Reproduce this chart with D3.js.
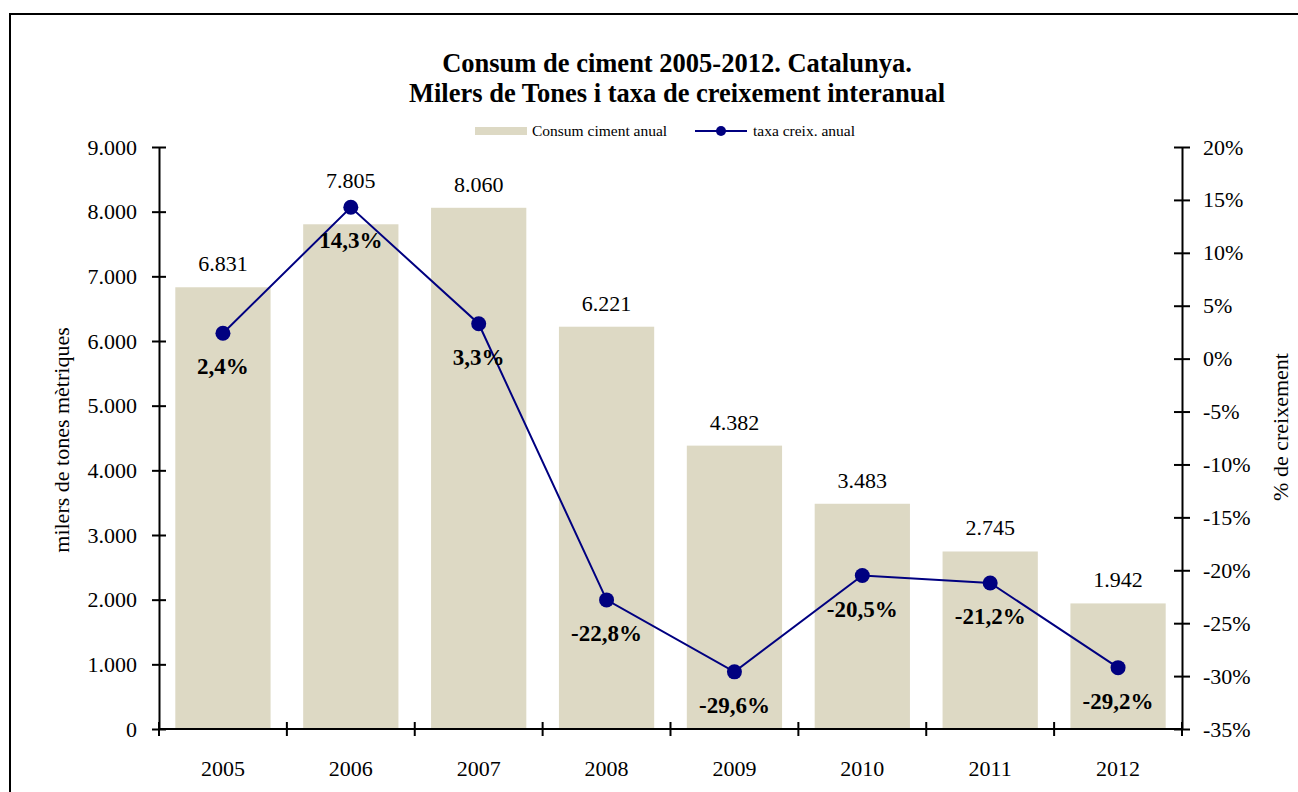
<!DOCTYPE html>
<html>
<head>
<meta charset="utf-8">
<script src="https://cdn.jsdelivr.net/npm/d3@7"></script>
<style>
  body { margin: 0; background: #fff; }
  text { font-family: "Liberation Serif", "Times New Roman", serif; fill: #000; }
</style>
</head>
<body>
<script>
// chart data
const years = ["2005", "2006", "2007", "2008", "2009", "2010", "2011", "2012"]
const consum = [6831, 7805, 8060, 6221, 4382, 3483, 2745, 1942]
const taxa = [2.4, 14.3, 3.3, -22.8, -29.6, -20.5, -21.2, -29.2]
const leftTicks = [0, 1000, 2000, 3000, 4000, 5000, 6000, 7000, 8000, 9000]
const rightTicks = [-35, -30, -25, -20, -15, -10, -5, 0, 5, 10, 15, 20]

const cat = d3.formatLocale({decimal: ",", thousands: ".", grouping: [3], currency: ["", "€"], minus: "-"})
const fmtInt = cat.format(",d")
const fmtPct = cat.format(".1f")

const W = 1298, H = 792
const pLeft = 159, pRight = 1182, pTop = 147, pBottom = 729
const barColor = "#ddd9c4", lineColor = "#000080"

let svg = d3.select("body").append("svg")
  .attr("width", W).attr("height", H)

// frame (runs off the right and bottom of the picture)
svg.append("rect")
  .attr("x", 10).attr("y", 14).attr("width", 1320).attr("height", 820)
  .attr("fill", "none").attr("stroke", "#000").attr("stroke-width", 2)

// title
svg.append("text").attr("x", 677).attr("y", 72).attr("text-anchor", "middle")
  .attr("font-size", 26.5).attr("font-weight", "bold")
  .text("Consum de ciment 2005-2012. Catalunya.")
svg.append("text").attr("x", 677).attr("y", 102).attr("text-anchor", "middle")
  .attr("font-size", 26.5).attr("font-weight", "bold")
  .text("Milers de Tones i taxa de creixement interanual")

// scales
let x = d3.scaleBand().domain(years).range([pLeft, pRight]).paddingInner(0.255).paddingOuter(0.1275)
let xEdge = d3.scaleLinear().domain([0, years.length]).range([pLeft, pRight])
let y = d3.scaleLinear().domain([0, 9000]).range([pBottom, pTop])
let y2 = d3.scaleLinear().domain([-35, 20]).range([pBottom, pTop])

// bars
svg.selectAll(".bar").data(consum).enter()
  .append("rect").attr("class", "bar")
  .attr("x", (d, i) => x(years[i]))
  .attr("width", x.bandwidth())
  .attr("y", d => y(d))
  .attr("height", d => pBottom - y(d))
  .attr("fill", barColor)

// left axis
let axL = svg.append("g").attr("transform", `translate(${pLeft},0)`)
  .call(d3.axisLeft(y).tickValues(leftTicks).tickFormat(fmtInt).tickSizeInner(7).tickSizeOuter(0).tickPadding(15))
axL.selectAll(".tick line").attr("x2", -7).attr("x1", 7).attr("stroke-width", 2)
axL.select(".domain").attr("stroke-width", 2)
axL.selectAll("text").attr("font-size", 22).attr("font-family", "Liberation Serif")

// right axis
let axR = svg.append("g").attr("transform", `translate(${pRight},0)`)
  .call(d3.axisRight(y2).tickValues(rightTicks).tickFormat(d => d + "%").tickSizeInner(8).tickSizeOuter(0).tickPadding(13))
axR.selectAll(".tick line").attr("x1", -8).attr("x2", 8).attr("stroke-width", 2)
axR.select(".domain").attr("stroke-width", 2)
axR.selectAll("text").attr("font-size", 22).attr("font-family", "Liberation Serif")

// bottom axis with ticks between categories
svg.append("line").attr("x1", pLeft).attr("x2", pRight).attr("y1", pBottom).attr("y2", pBottom)
  .attr("stroke", "#000").attr("stroke-width", 2)
svg.selectAll(".xtick").data(d3.range(years.length + 1)).enter()
  .append("line").attr("class", "xtick")
  .attr("x1", d => xEdge(d)).attr("x2", d => xEdge(d))
  .attr("y1", pBottom - 7).attr("y2", pBottom + 7)
  .attr("stroke", "#000").attr("stroke-width", 2)
svg.selectAll(".xlabel").data(years).enter()
  .append("text").attr("class", "xlabel")
  .attr("x", d => x(d) + x.bandwidth() / 2)
  .attr("y", 776)
  .attr("text-anchor", "middle").attr("font-size", 22)
  .text(d => d)

// axis titles
svg.append("text").attr("transform", `translate(69,${(pTop + pBottom) / 2 + 2}) rotate(-90)`)
  .attr("text-anchor", "middle").attr("font-size", 22)
  .text("milers de tones mètriques")
svg.append("text").attr("transform", `translate(1288,${(pTop + pBottom) / 2 - 11}) rotate(-90)`)
  .attr("text-anchor", "middle").attr("font-size", 22)
  .text("% de creixement")

// line
let cx = (d, i) => x(years[i]) + x.bandwidth() / 2
let line = d3.line().x(cx).y(d => y2(d))
svg.append("path").datum(taxa)
  .attr("d", line).attr("fill", "none")
  .attr("stroke", lineColor).attr("stroke-width", 2)
svg.selectAll(".dot").data(taxa).enter()
  .append("circle").attr("class", "dot")
  .attr("cx", cx).attr("cy", d => y2(d)).attr("r", 7.5)
  .attr("fill", lineColor)

// bar value labels, lifted above the marker when it sits in the way
svg.selectAll(".vlabel").data(consum).enter()
  .append("text").attr("class", "vlabel")
  .attr("x", (d, i) => cx(d, i))
  .attr("y", (d, i) => {
    let yy = y(d) - 16
    let my = y2(taxa[i])
    if (my < y(d) + 5 && my > yy - 25) yy = my - 19
    return yy
  })
  .attr("text-anchor", "middle").attr("font-size", 22)
  .text(d => fmtInt(d))

// rate labels
svg.selectAll(".plabel").data(taxa).enter()
  .append("text").attr("class", "plabel")
  .attr("x", cx)
  .attr("y", d => y2(d) + 41)
  .attr("text-anchor", "middle").attr("font-size", 23).attr("font-weight", "bold")
  .text(d => fmtPct(d) + "%")

// legend
let lg = svg.append("g")
lg.append("rect").attr("x", 475).attr("y", 127).attr("width", 52).attr("height", 8).attr("fill", barColor)
lg.append("text").attr("x", 532).attr("y", 136).attr("font-size", 15.5).text("Consum ciment anual")
lg.append("line").attr("x1", 695).attr("x2", 747).attr("y1", 131).attr("y2", 131)
  .attr("stroke", lineColor).attr("stroke-width", 2)
lg.append("circle").attr("cx", 721).attr("cy", 131).attr("r", 5).attr("fill", lineColor)
lg.append("text").attr("x", 753).attr("y", 136).attr("font-size", 15.5).text("taxa creix. anual")
</script>
</body>
</html>
